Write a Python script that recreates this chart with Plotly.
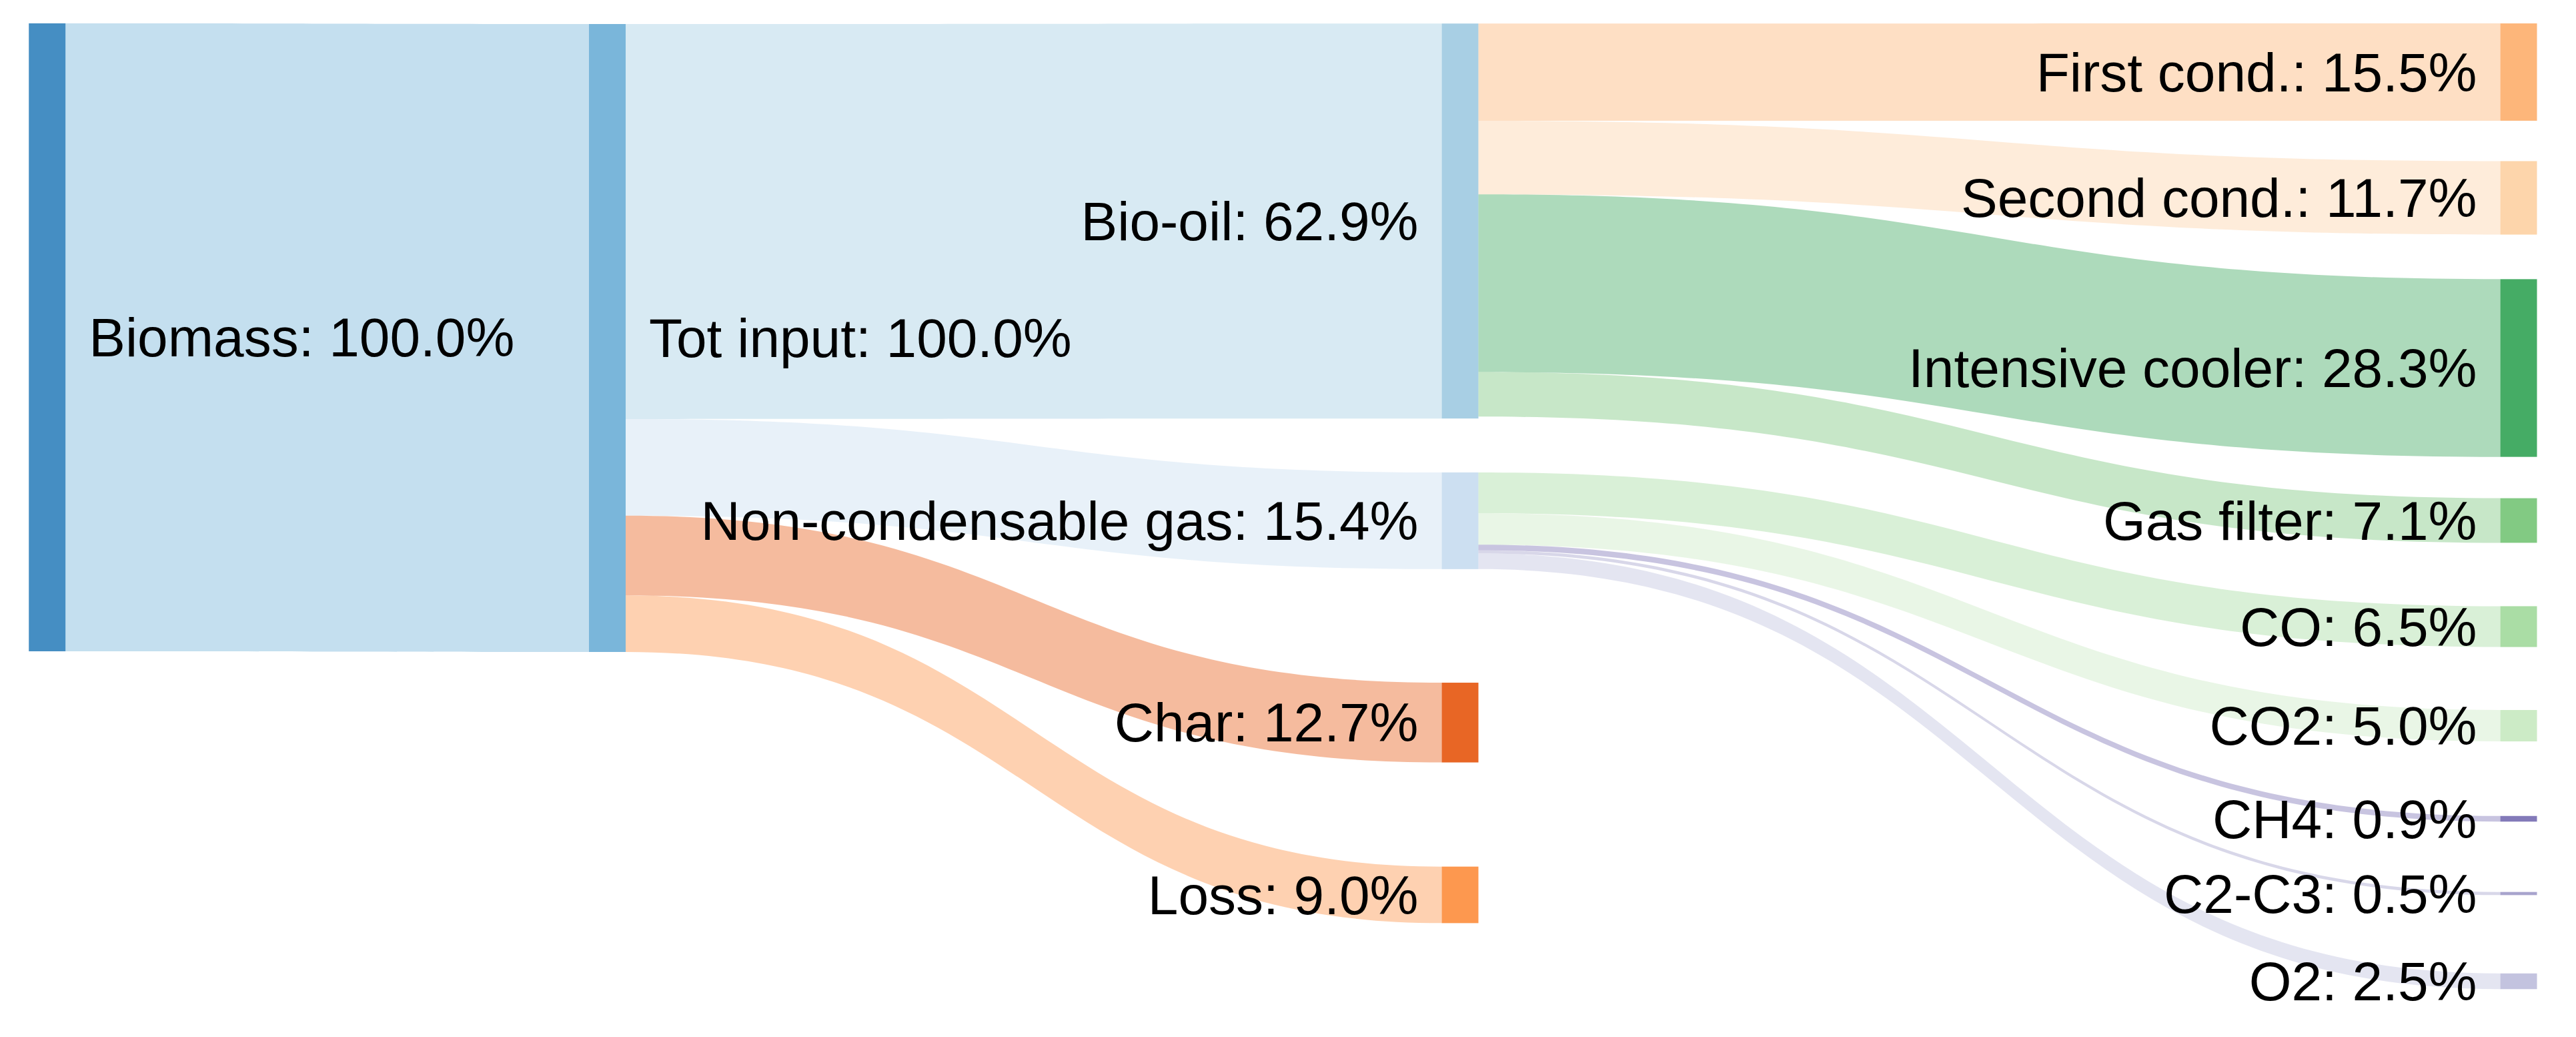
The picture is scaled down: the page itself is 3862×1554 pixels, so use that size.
import plotly.graph_objects as go

# ---- data ----
node_labels = [
    "Biomass: 100.0%", "Tot input: 100.0%", "Bio-oil: 62.9%", "Non-condensable gas: 15.4%",
    "Char: 12.7%", "Loss: 9.0%", "First cond.: 15.5%", "Second cond.: 11.7%",
    "Intensive cooler: 28.3%", "Gas filter: 7.1%", "CO: 6.5%", "CO2: 5.0%",
    "CH4: 0.9%", "C2-C3: 0.5%", "O2: 2.5%",
]
node_colors = [
    "#3182bd", "#6baed6", "#9ecae1", "#c6dbef",
    "#e6550d", "#fd8d3c", "#fdae6b", "#fdd0a2",
    "#31a354", "#74c476", "#a1d99b", "#c7e9c0",
    "#756bb1", "#9e9ac8", "#bcbddc",
]
link_source = [0, 1, 1, 1, 1, 2, 2, 2, 2, 3, 3, 3, 3, 3]
link_target = [1, 2, 3, 4, 5, 6, 7, 8, 9, 10, 11, 12, 13, 14]
link_value = [100.0, 62.9, 15.4, 12.7, 9.0, 15.5, 11.7, 28.3, 7.1, 6.5, 5.0, 0.9, 0.5, 2.5]

# node centre positions, as fractions of the whole figure
node_cx = [0.01831, 0.23576, 0.56680, 0.56680, 0.56680, 0.56680,
           0.97773, 0.97773, 0.97773, 0.97773, 0.97773, 0.97773, 0.97773, 0.97773, 0.97773]
node_cy = [0.32529, 0.32593, 0.21313, 0.50219, 0.69678, 0.86293,
           0.06950, 0.19080, 0.35489, 0.50193, 0.60425, 0.69981, 0.78958, 0.86165, 0.94627]

W, H = 3862, 1554
KY = 9.41          # pixels per percent
THICK = 55
FONT = dict(family="Liberation Sans, Arial, sans-serif", size=82, color="black",
            shadow="none")
LINE = dict(color="rgba(255,255,255,0)", width=64)


def rgba(hex_color, a):
    h = hex_color.lstrip("#")
    r, g, b = int(h[0:2], 16), int(h[2:4], 16), int(h[4:6], 16)
    return f"rgba({r},{g},{b},{a})"


stage1_nodes = [0, 1, 2, 3, 4, 5]
stage2_nodes = [2, 3] + list(range(6, 15))
dom1 = (0.0, 0.6)
dom2 = (0.5, 1.0)


def outflow(n):
    return sum(v for s, v in zip(link_source, link_value) if s == n)


def inflow(n):
    return sum(v for t, v in zip(link_target, link_value) if t == n)


def build(nodes, dom, first_col_hidden, pad):
    idx = {n: i for i, n in enumerate(nodes)}
    src, tgt, val, lcol = [], [], [], []
    for s, t, v in zip(link_source, link_target, link_value):
        if s in idx and t in idx:
            src.append(idx[s]); tgt.append(idx[t]); val.append(v)
            lcol.append(rgba(node_colors[t], 0.4))
    labels, colors, xs, ys = [], [], [], []
    dw = dom[1] - dom[0]
    for n in nodes:
        hidden = first_col_hidden and n in (2, 3)
        labels.append("" if hidden else node_labels[n])
        colors.append("rgba(0,0,0,0)" if hidden else rgba(node_colors[n], 0.9))
        xs.append((node_cx[n] - dom[0]) / dw)
        cy = node_cy[n]
        if hidden:
            # keep the top of the node where the full node's top is
            full = max(inflow(n), outflow(n))
            cy = cy - (full - outflow(n)) * KY / 2 / H
        ys.append(cy)
    return go.Sankey(
        arrangement="fixed",
        domain=dict(x=list(dom), y=[0, 1]),
        valueformat=".1f",
        node=dict(label=labels, color=colors, x=xs, y=ys, pad=pad,
                  thickness=THICK, line=LINE),
        link=dict(source=src, target=tgt, value=val, color=lcol),
        textfont=FONT,
    )


pad1 = (H - 100.0 * KY) / 3
pad2 = (H - 78.0 * KY) / 8

fig = go.Figure([
    build(stage1_nodes, dom1, False, pad1),
    build(stage2_nodes, dom2, True, pad2),
])

fig.update_layout(
    width=W,
    height=H,
    margin=dict(l=0, r=0, t=0, b=0),
    paper_bgcolor="white",
    plot_bgcolor="white",
)

fig.write_html("out.html", config={"displayModeBar": False},
               post_script="document.body.style.margin='0';")
